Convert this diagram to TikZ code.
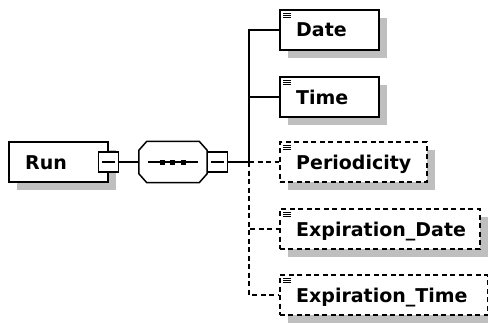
\documentclass[tikz,border=0pt]{standalone}
\usepackage{fontspec}
\setmainfont{DejaVu Sans}
\usetikzlibrary{shadows}

\begin{document}
\begin{tikzpicture}[x=1pt,y=-1pt,
  elbox/.style={draw, line width=1.5pt, fill=white, minimum height=40pt, inner sep=0pt, anchor=west,
    drop shadow={shadow xshift=8pt, shadow yshift=-8pt, fill=black!25, opacity=1}},
  optbox/.style={elbox, dash pattern=on 5pt off 3.5pt},
  eltext/.style={anchor=base west, inner sep=0pt, font=\fontsize{19}{22}\selectfont\bfseries},
  minusbox/.style={draw, line width=1.5pt, fill=white, minimum size=20pt, inner sep=0pt},
  seqbox/.style={inner sep=0pt, minimum width=68pt, minimum height=41pt},
  seqshade/.style={fill=black!25},
  seqline/.style={draw, line width=1.5pt, fill=white},
  link/.style={line width=1.5pt},
  optlink/.style={link, dash pattern=on 5pt off 3.5pt},
  iconline/.style={line width=1pt}]
\useasboundingbox (0,0) rectangle (488,324);
% root element
\node[elbox, minimum width=99pt] (run) at (8,162) {};
\node[eltext] (runt) at ([xshift=17pt,yshift=-7pt]run.west) {Run};
\node[minusbox] (runm) at (run.east) {};
\draw[link] ([xshift=4pt]runm.west) -- ([xshift=-4pt]runm.east);
% sequence compositor
\node[seqbox] (seq) at (173,162) {};
\foreach \s/\st in {8/seqshade, 0/seqline}
  \path[shift={(\s,\s)}, \st]
    ([xshift=8pt]seq.north west) -- ([xshift=-8pt]seq.north east)
    -- ([yshift=-9pt]seq.north east) -- ([yshift=9pt]seq.south east)
    -- ([xshift=-8pt]seq.south east) -- ([xshift=8pt]seq.south west)
    -- ([yshift=9pt]seq.south west) -- ([yshift=-9pt]seq.north west) -- cycle;
\draw[link] ([xshift=-25pt]seq.center) -- ([xshift=25pt]seq.center);
\foreach \dx in {-11,-1,10}
  \fill ([xshift=\dx pt]seq.center) +(-2.5,-2.5) rectangle +(2.5,2.5);
\node[minusbox] (seqm) at (217.5,162) {};
\draw[link] ([xshift=4pt]seqm.west) -- ([xshift=-4pt]seqm.east);
% child elements
\node[elbox, minimum width=99pt] (date) at (279,30) {};
\node[eltext] (datet) at ([xshift=17pt,yshift=-7pt]date.west) {Date};
\node[elbox, minimum width=99pt] (time) at (279,97) {};
\node[eltext] (timet) at ([xshift=17pt,yshift=-7pt]time.west) {Time};
\node[optbox, minimum width=147pt] (period) at (279,162) {};
\node[eltext] (periodt) at ([xshift=17pt,yshift=-7pt]period.west) {Periodicity};
\node[optbox, minimum width=200pt] (expdate) at (279,229) {};
\node[eltext] (expdatet) at ([xshift=17pt,yshift=-7pt]expdate.west) {Expiration\_Date};
\node[optbox, minimum width=208pt] (exptime) at (279,295) {};
\node[eltext] (exptimet) at ([xshift=17pt,yshift=-7pt]exptime.west) {Expiration\_Time};
\foreach \n in {date,time,period,expdate,exptime}
  \foreach \d in {4,6,8}
    \draw[iconline] ([xshift=4pt,yshift=-\d pt]\n.north west) -- ++(8,0);
% connectors
\coordinate (fork) at (249,162);
\draw[link] (runm) -- (seq);
\draw[link] (seqm) -- (fork);
\draw[link] (fork) |- (date);
\draw[link] (fork) |- (time);
\draw[optlink] (fork) -- (period);
\draw[optlink] (fork) |- (expdate);
\draw[optlink] (fork) |- (exptime);
\end{tikzpicture}
\end{document}
